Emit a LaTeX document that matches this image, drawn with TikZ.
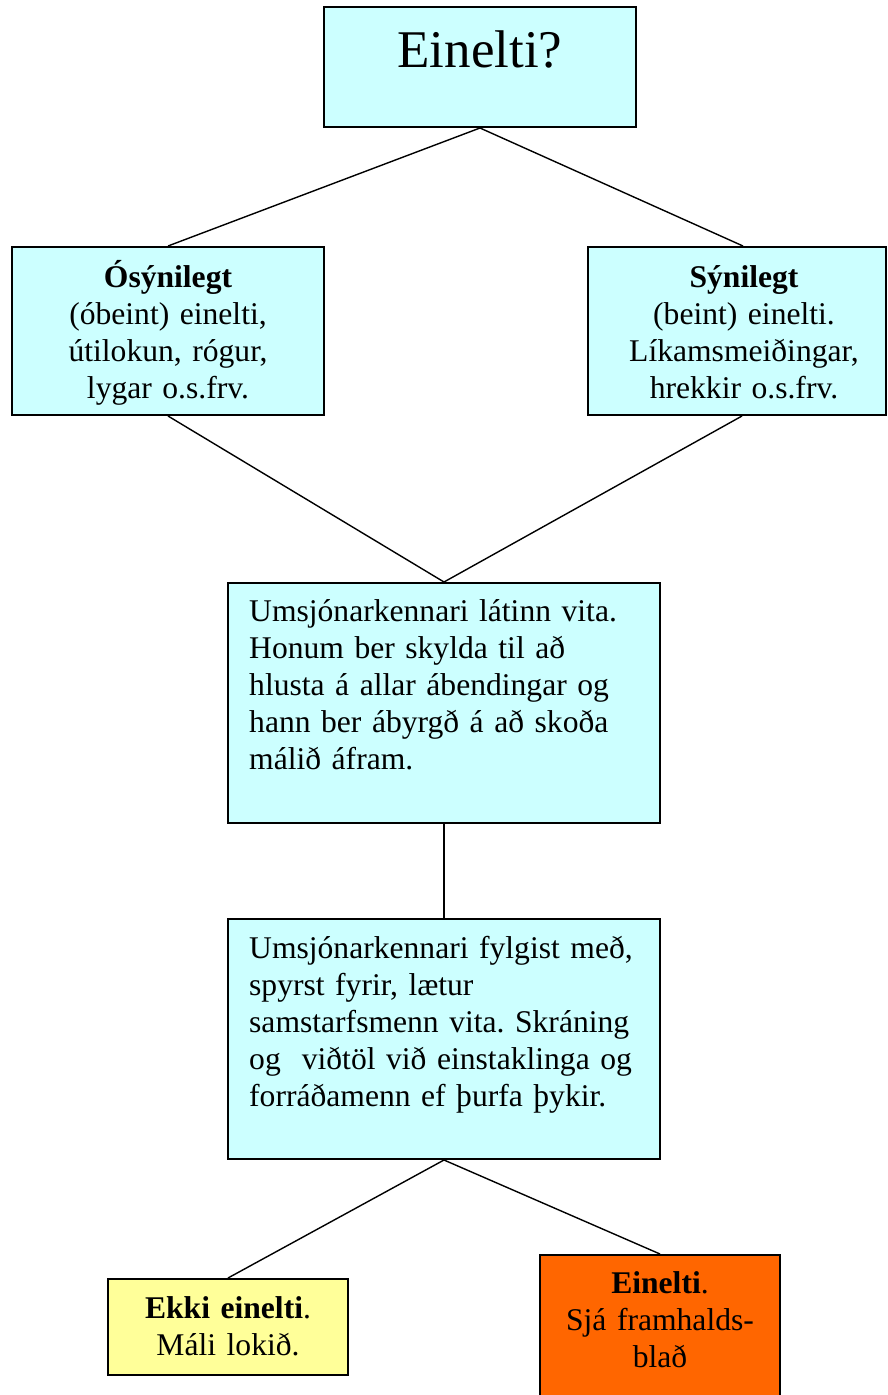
\documentclass[tikz,border=0pt]{standalone}
\usepackage{fontspec}
\setmainfont{Liberation Serif}
\usetikzlibrary{calc}
\definecolor{boxcyan}{HTML}{CCFFFF}
\definecolor{boxyellow}{HTML}{FFFF99}
\definecolor{boxorange}{HTML}{FF6600}
\begin{document}
\frenchspacing
\begin{tikzpicture}[x=1pt,y=-1pt,
  box/.style={draw=black, line width=2pt, rectangle, inner sep=0pt},
  link/.style={draw=black, line width=1.4pt},
  txt/.style={inner sep=0pt, font=\fontsize{31.6}{37}\selectfont},
]
\useasboundingbox (0,0) rectangle (887,1395);
\clip (0,0) rectangle (887,1395);
\fill[white] (0,0) rectangle (887,1395);

% boxes
\node[box, fill=boxcyan, minimum width=312pt, minimum height=120pt] (top) at (480,67) {};
\node[box, fill=boxcyan, minimum width=312pt, minimum height=168pt] (left) at (168,331) {};
\node[box, fill=boxcyan, minimum width=298pt, minimum height=168pt] (right) at (737,331) {};
\node[box, fill=boxcyan, minimum width=432pt, minimum height=240pt] (mid1) at (444,703) {};
\node[box, fill=boxcyan, minimum width=432pt, minimum height=240pt] (mid2) at (444,1039) {};
\node[box, fill=boxyellow, minimum width=240pt, minimum height=96pt] (yes) at (228,1327) {};
\node[box, fill=boxorange, minimum width=240pt, minimum height=160pt] (no) at (660,1335) {};

% connectors
\draw[link] (top.south) -- (left.north);
\draw[link] (top.south) -- ($(right.north)+(6,0)$);
\draw[link] (left.south) -- (mid1.north);
\draw[link] ($(right.south)+(5,0)$) -- (mid1.north);
\draw[link] (mid1.south) -- (mid2.north);
\draw[link] (mid2.south) -- (yes.north);
\draw[link] (mid2.south) -- (no.north);

% texts
\node[txt, anchor=base, font=\fontsize{53}{61}\selectfont] (ttop) at (480,67) {Einelti?};
\node[txt, anchor=base, text width=300pt, align=center] (tleft) at (168,287)
  {\textbf{Ósýnilegt}\\(óbeint) einelti,\\útilokun, rógur,\\lygar o.s.frv.};
\node[txt, anchor=base, text width=300pt, align=center] (tright) at (744,287)
  {\textbf{Sýnilegt}\\(beint) einelti.\\Líkamsmeiðingar,\\hrekkir o.s.frv.};
\node[txt, anchor=base west, text width=420pt, align=left] (tmid1) at (249,621)
  {Umsjónarkennari látinn vita.\\Honum ber skylda til að\\hlusta á allar ábendingar og\\hann ber ábyrgð á að skoða\\málið áfram.};
\node[txt, anchor=base west, text width=420pt, align=left] (tmid2) at (249,958)
  {Umsjónarkennari fylgist með,\\spyrst fyrir, lætur\\samstarfsmenn vita. Skráning\\og\ \ viðtöl við einstaklinga og\\forráðamenn ef þurfa þykir.};
\node[txt, anchor=base, text width=230pt, align=center] (tyes) at (228,1318)
  {\textbf{Ekki einelti}.\\Máli lokið.};
\node[txt, anchor=base, text width=230pt, align=center] (tno) at (660,1293)
  {\textbf{Einelti}.\\Sjá framhalds-\\blað};
\end{tikzpicture}
\end{document}
